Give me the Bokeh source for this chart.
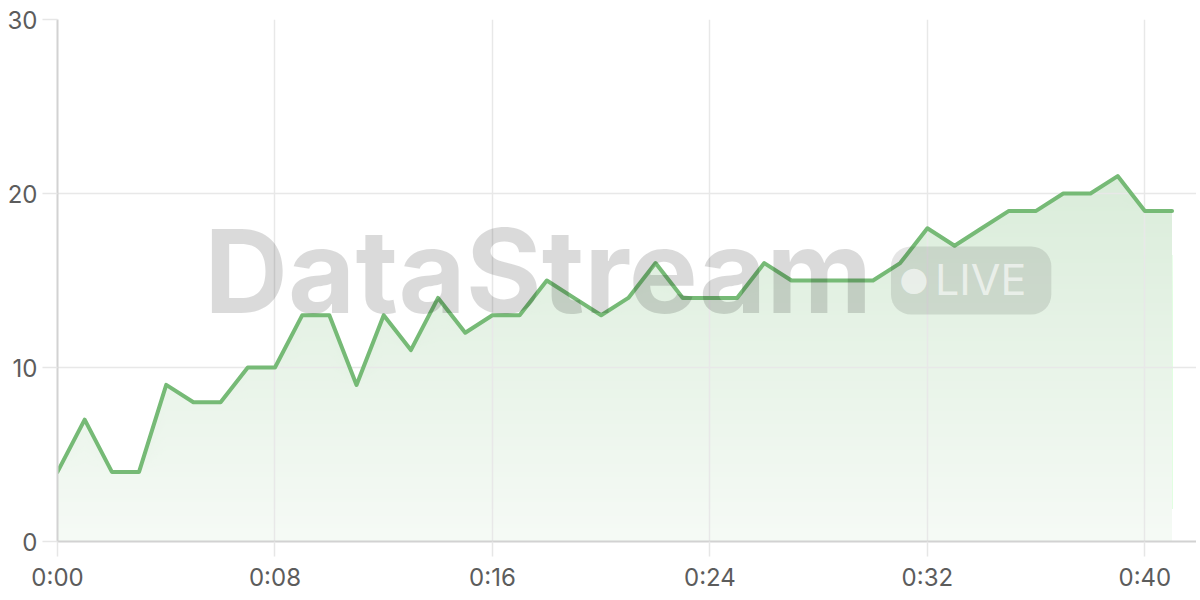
import numpy as np
from bokeh.plotting import figure
from bokeh.models import Range1d, FixedTicker, Label, ColumnDataSource
from bokeh.embed import file_html
from bokeh.resources import INLINE

# ---- data ----
seconds = list(range(42))
values = [4, 7, 4, 4, 9, 8, 8, 10, 10, 13,
          13, 9, 13, 11, 14, 12, 13, 13, 15, 14,
          13, 14, 16, 14, 14, 14, 16, 15, 15, 15,
          15, 16, 18, 17, 18, 19, 19, 20, 20, 21,
          19, 19]
x_tick_positions = [0, 8, 16, 24, 32, 40]
x_tick_labels = ["0:00", "0:08", "0:16", "0:24", "0:32", "0:40"]
y_tick_positions = [0, 10, 20, 30]

GREEN_RGB = (118, 186, 118)
GREEN = "#76ba76"
FONT = "Inter"

p = figure(width=1196, height=596,
           x_range=Range1d(0, 41.9), y_range=Range1d(0, 30),
           output_backend="svg", toolbar_location=None,
           min_border_left=57, min_border_right=0,
           min_border_top=19, min_border_bottom=55)
p.outline_line_color = None
p.background_fill_color = "white"
p.border_fill_color = "white"

p.xaxis.ticker = FixedTicker(ticks=x_tick_positions)
p.xaxis.major_label_overrides = {t: l for t, l in zip(x_tick_positions, x_tick_labels)}
p.yaxis.ticker = FixedTicker(ticks=y_tick_positions)

for ax in (p.xaxis[0], p.yaxis[0]):
    ax.axis_line_color = "#d2d2d2"
    ax.axis_line_width = 2
    ax.major_tick_line_color = "#e6e6e6"
    ax.major_tick_line_width = 1.5
    ax.major_tick_out = 15
    ax.major_tick_in = 0
    ax.minor_tick_line_color = None
    ax.major_label_text_font = FONT
    ax.major_label_text_font_size = "24px"
    ax.major_label_text_color = "#5c5c5c"
p.xaxis.major_label_standoff = 6
p.yaxis.major_label_standoff = 5

p.grid.grid_line_color = "#e8e8e8"
p.grid.grid_line_width = 1.5

# ---- watermark ----
wm = Label(x=5.4, y=15.55, text="DataStream", text_font=FONT, text_font_style="bold",
           text_font_size="116px", text_color="black", text_alpha=0.145,
           text_baseline="alphabetic", text_align="left", level="glyph")
p.add_layout(wm)
badge = Label(x=30.66, y=15.0, text="LIVE", text_font=FONT, text_font_size="43px",
              text_color="white", text_alpha=0.6, text_baseline="alphabetic",
              text_align="left", level="glyph",
              background_fill_color="black", background_fill_alpha=0.1,
              border_radius=20,
              padding=dict(left=44, right=25, top=6, bottom=10))
p.add_layout(badge)
dot = Label(x=31.5, y=15.1, text="\u25cf", text_font="DejaVu Sans", text_font_size="33px",
            text_color="white", text_alpha=0.6, text_baseline="middle",
            text_align="center", level="glyph")
p.add_layout(dot)

# ---- vertical gradient fill under the line (opaque stacked bands) ----
vals = np.array(values, dtype=float)
top_level = float(vals.max())


def band_color(h):
    a = 0.07 + 0.20 * min(h, top_level) / top_level
    r, g, b = (round(255 - a * (255 - c)) for c in GREEN_RGB)
    return "#%02x%02x%02x" % (r, g, b)


src = ColumnDataSource(dict(x=seconds, y=values, zero=[0] * len(values)))
r0 = p.varea(x="x", y1="zero", y2="y", source=src, fill_color=band_color(top_level))
r0.level = "image"
for hi in np.arange(top_level, 0, -0.25):
    r = p.varea(x=seconds, y1=[0] * len(seconds), y2=np.minimum(vals, hi),
                fill_color=band_color(hi - 0.125))
    r.level = "image"

p.line(x="x", y="y", source=src, line_color=GREEN, line_width=4,
       line_join="round", line_cap="round")

open("out.html", "w").write(file_html(p, INLINE))
